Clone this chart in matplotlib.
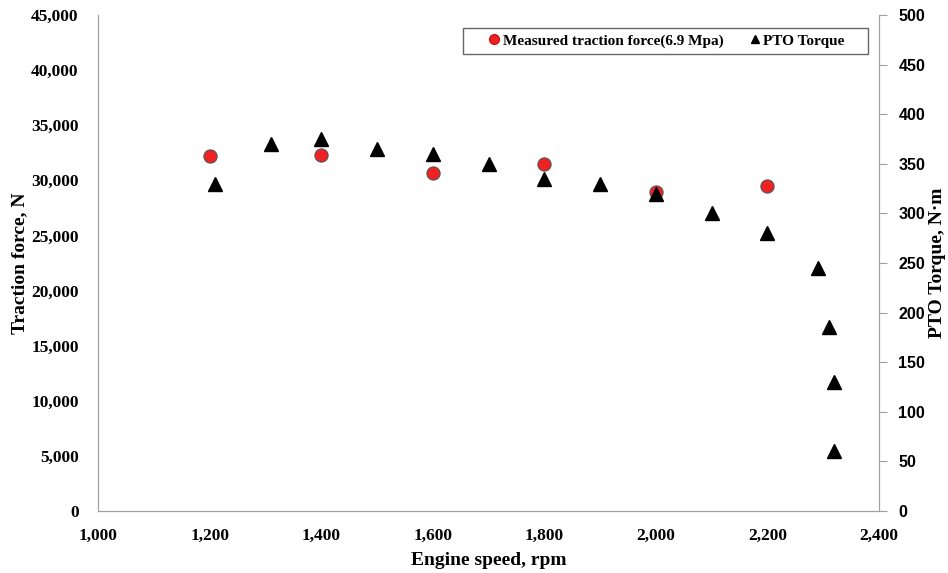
import matplotlib.pyplot as plt
from matplotlib.lines import Line2D
from matplotlib.patches import Rectangle
from matplotlib.ticker import FuncFormatter

# measured traction force (left axis)
force_rpm = [1200, 1400, 1600, 1800, 2000, 2200]
force_n = [32200, 32300, 30700, 31500, 28900, 29500]

# PTO torque (right axis)
torque_rpm = [1210, 1310, 1400, 1500, 1600, 1700, 1800, 1900, 2000, 2100, 2200,
              2290, 2310, 2320, 2320]
torque_nm = [330, 370, 375, 365, 360, 350, 335, 330, 320, 300, 280,
             245, 185, 130, 60]

serif = 'Liberation Serif'
sans = 'Liberation Sans'
grey = '#a0a0a0'
red = '#ee2222'
W, H = 948, 573

fig = plt.figure(figsize=(W / 100, H / 100), dpi=100)
ax = fig.add_axes([0.1034, 0.1082, 0.8238, 0.8656])
ax2 = ax.twinx()

ax.plot(force_rpm, force_n, 'o', color=red, mec='#555555', mew=0.8,
        ms=9.5, zorder=3)
ax2.plot(torque_rpm, torque_nm, '^', color='black', ms=9.5)

ax.set_xlim(1000, 2400)
ax.set_ylim(0, 45000)
ax2.set_ylim(0, 500)
ax.set_xticks(range(1000, 2401, 200))
ax.set_yticks(range(0, 45001, 5000))
ax2.set_yticks(range(0, 501, 50))

comma = FuncFormatter(lambda v, p: f'{int(v):,}')
ax.xaxis.set_major_formatter(comma)
ax.yaxis.set_major_formatter(comma)

ax.tick_params(axis='x', length=0, pad=12)
ax.tick_params(axis='y', length=0, pad=14)
ax2.tick_params(axis='y', length=6, color=grey, pad=8)

for lbl in ax.get_xticklabels() + ax.get_yticklabels():
    lbl.set_fontfamily(serif)
    lbl.set_fontweight('bold')
    lbl.set_fontsize(12.5)
for lbl in ax2.get_yticklabels():
    lbl.set_fontfamily(sans)
    lbl.set_fontweight('bold')
    lbl.set_fontsize(11.5)

for a in (ax, ax2):
    for s in a.spines.values():
        s.set_color(grey)
ax.spines['top'].set_visible(False)
ax2.spines['top'].set_visible(False)

ax.set_xlabel('Engine speed, rpm', family=serif, weight='bold', fontsize=14, labelpad=6)
ax.set_ylabel('Traction force, N', family=serif, weight='bold', fontsize=14, labelpad=2)
ax2.set_ylabel('PTO Torque, N\u00b7m', family=serif, weight='bold', fontsize=14, labelpad=3)

# legend uses small glyph-like markers, as in the original
handles = [Line2D([], [], ls='', marker='o', color=red, mec='#cc1111', ms=7),
           Line2D([], [], ls='', marker='^', color='black', ms=5.5)]
labels = ['Measured traction force(6.9 Mpa)', 'PTO Torque']
leg = ax2.legend(handles, labels, ncol=2,
                 loc='center right', bbox_to_anchor=(852 / W, 1 - 41 / H),
                 bbox_transform=fig.transFigure,
                 prop={'family': serif, 'weight': 'bold', 'size': 11},
                 frameon=False, handletextpad=0.1, columnspacing=1.6,
                 borderpad=0.0, handlelength=0.9)

# legend frame drawn as in the original (wider on the left)
fig.patches.append(Rectangle((463 / W, 1 - 54 / H), 405 / W, 26 / H,
                             transform=fig.transFigure, fill=False,
                             edgecolor='#666666', linewidth=1.0))

fig.savefig('out.png', dpi=100)
